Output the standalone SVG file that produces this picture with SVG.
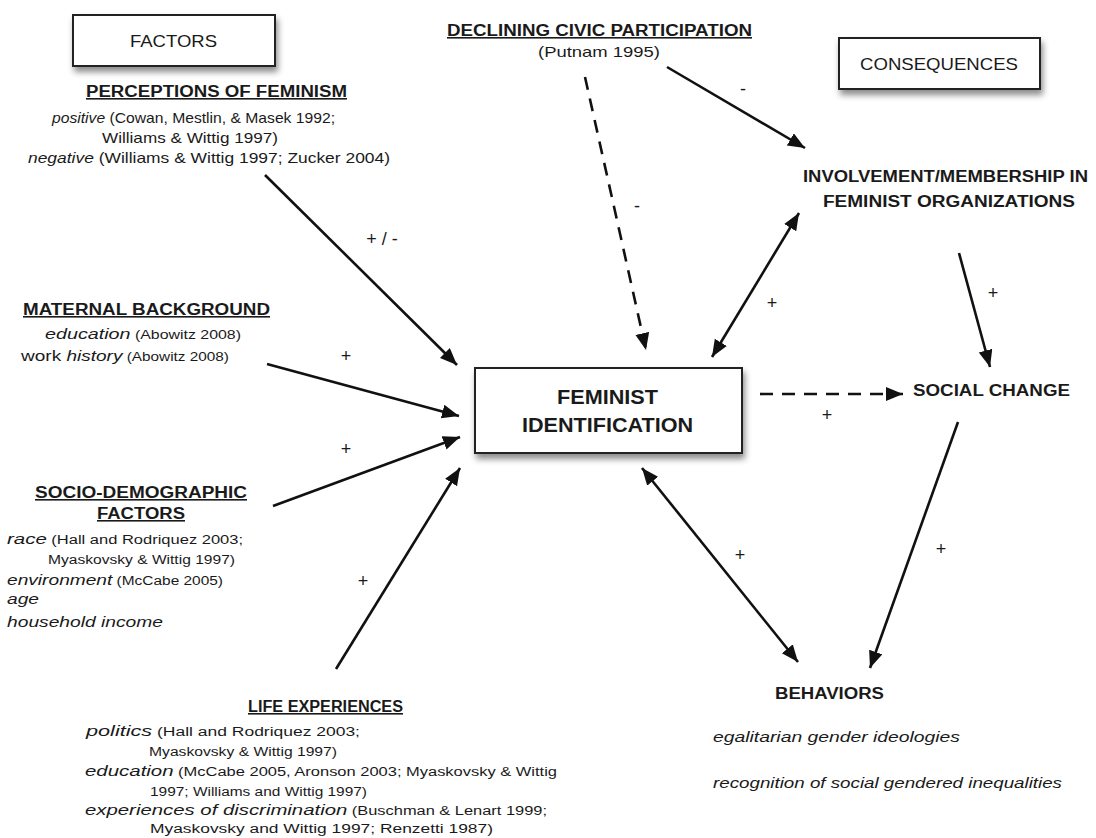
<svg xmlns="http://www.w3.org/2000/svg" width="1096" height="838" viewBox="0 0 1096 838">
<defs>
<filter id="sh" x="-20%" y="-20%" width="150%" height="160%">
<feDropShadow dx="2" dy="5" stdDeviation="3" flood-color="#000" flood-opacity="0.45"/>
</filter>
<marker id="ah" markerUnits="userSpaceOnUse" markerWidth="20" markerHeight="16" refX="17" refY="7" orient="auto-start-reverse">
<path d="M0,0 L17,7 L0,14 z" fill="#111"/>
</marker>
<style>
text{font-family:"Liberation Sans",Arial,sans-serif;fill:#1a1a1a}
.h{font-weight:bold;font-size:16px;text-decoration:underline}
.b{font-weight:bold}
.i{font-style:italic;font-size:15.5px}
.c{font-size:12.5px}
.p{font-size:15px}
.box{fill:#fff;stroke:#222;stroke-width:2}
.ln{stroke:#111;stroke-width:2.6;fill:none}
.ds{stroke-dasharray:13 9}
.lbl{font-size:18px;text-anchor:middle}
</style>
</defs>
<rect width="1096" height="838" fill="#fff"/>

<g id="factors">
<rect class="box" x="73" y="15" width="202" height="51" filter="url(#sh)"/>
<text x="130" y="47" font-size="17" textLength="87" lengthAdjust="spacingAndGlyphs">FACTORS</text>
</g>

<g id="consequences">
<rect class="box" x="839" y="38" width="201" height="51" filter="url(#sh)"/>
<text x="860" y="70" font-size="17" textLength="158" lengthAdjust="spacingAndGlyphs">CONSEQUENCES</text>
</g>

<g id="perceptions">
<text class="h" x="86" y="97" textLength="261" lengthAdjust="spacingAndGlyphs">PERCEPTIONS OF FEMINISM</text>
<text x="52" y="123" class="p" textLength="283" lengthAdjust="spacingAndGlyphs"><tspan font-style="italic">positive</tspan> (Cowan, Mestlin, &amp; Masek 1992;</text>
<text x="102" y="143" class="p" textLength="176" lengthAdjust="spacingAndGlyphs">Williams &amp; Wittig 1997)</text>
<text x="28" y="163" class="p" textLength="362" lengthAdjust="spacingAndGlyphs"><tspan font-style="italic">negative</tspan> (Williams &amp; Wittig 1997; Zucker 2004)</text>
</g>

<g id="maternal">
<text class="h" x="23" y="315" textLength="247" lengthAdjust="spacingAndGlyphs">MATERNAL BACKGROUND</text>
<text x="45" y="339" textLength="196" lengthAdjust="spacingAndGlyphs"><tspan class="i">education</tspan><tspan class="c"> (Abowitz 2008)</tspan></text>
<text x="21" y="361" textLength="208" lengthAdjust="spacingAndGlyphs"><tspan font-size="15.5">work </tspan><tspan class="i">history</tspan><tspan class="c"> (Abowitz 2008)</tspan></text>
</g>

<g id="sociodemographic">
<text class="h" x="35" y="498" textLength="212" lengthAdjust="spacingAndGlyphs">SOCIO-DEMOGRAPHIC</text>
<text class="h" x="97" y="519" textLength="88" lengthAdjust="spacingAndGlyphs">FACTORS</text>
<text x="7" y="544" textLength="236" lengthAdjust="spacingAndGlyphs"><tspan class="i">race</tspan><tspan class="c"> (Hall and Rodriquez 2003;</tspan></text>
<text x="48" y="564" class="c" textLength="187" lengthAdjust="spacingAndGlyphs">Myaskovsky &amp; Wittig 1997)</text>
<text x="7" y="585" textLength="216" lengthAdjust="spacingAndGlyphs"><tspan class="i">environment</tspan><tspan class="c"> (McCabe 2005)</tspan></text>
<text x="7" y="604" class="i" textLength="32" lengthAdjust="spacingAndGlyphs">age</text>
<text x="7" y="627" class="i" textLength="156" lengthAdjust="spacingAndGlyphs">household income</text>
</g>

<g id="life">
<text class="h" x="248" y="712" textLength="155" lengthAdjust="spacingAndGlyphs">LIFE EXPERIENCES</text>
<text x="86" y="736" textLength="274" lengthAdjust="spacingAndGlyphs"><tspan class="i">politics</tspan><tspan class="c"> (Hall and Rodriquez 2003;</tspan></text>
<text x="149" y="756" class="c" textLength="188" lengthAdjust="spacingAndGlyphs">Myaskovsky &amp; Wittig 1997)</text>
<text x="85" y="776" textLength="472" lengthAdjust="spacingAndGlyphs"><tspan class="i">education</tspan><tspan class="c"> (McCabe 2005, Aronson 2003; Myaskovsky &amp; Wittig</tspan></text>
<text x="150" y="796" class="c" textLength="217" lengthAdjust="spacingAndGlyphs">1997; Williams and Wittig 1997)</text>
<text x="85" y="815" textLength="462" lengthAdjust="spacingAndGlyphs"><tspan class="i">experiences of discrimination</tspan><tspan class="c"> (Buschman &amp; Lenart 1999;</tspan></text>
<text x="150" y="833" class="c" textLength="343" lengthAdjust="spacingAndGlyphs">Myaskovsky and Wittig 1997; Renzetti 1987)</text>
</g>

<g id="civic">
<text class="h" x="447" y="36" textLength="305" lengthAdjust="spacingAndGlyphs">DECLINING CIVIC PARTICIPATION</text>
<text x="538" y="57" class="p" textLength="122" lengthAdjust="spacingAndGlyphs">(Putnam 1995)</text>
</g>

<g id="feminist-identification">
<rect class="box" x="475" y="368" width="267" height="85" filter="url(#sh)"/>
<text class="b" x="557" y="404" font-size="20" textLength="101" lengthAdjust="spacingAndGlyphs">FEMINIST</text>
<text class="b" x="522" y="432" font-size="20" textLength="171" lengthAdjust="spacingAndGlyphs">IDENTIFICATION</text>
</g>

<g id="involvement">
<text class="b" x="803" y="182" font-size="16" textLength="285" lengthAdjust="spacingAndGlyphs">INVOLVEMENT/MEMBERSHIP IN</text>
<text class="b" x="823" y="207" font-size="16" textLength="252" lengthAdjust="spacingAndGlyphs">FEMINIST ORGANIZATIONS</text>
</g>

<g id="social-change">
<text class="b" x="913" y="396" font-size="16" textLength="157" lengthAdjust="spacingAndGlyphs">SOCIAL CHANGE</text>
</g>

<g id="behaviors">
<text class="b" x="775" y="699" font-size="16" textLength="109" lengthAdjust="spacingAndGlyphs">BEHAVIORS</text>
<text x="713" y="742" class="i" textLength="247" lengthAdjust="spacingAndGlyphs">egalitarian  gender  ideologies</text>
<text x="713" y="788" class="i" textLength="349" lengthAdjust="spacingAndGlyphs">recognition of social gendered inequalities</text>
</g>

<g id="connectors">
<line class="ln" x1="265" y1="175" x2="457" y2="365" marker-end="url(#ah)"/>
<line class="ln" x1="267" y1="364" x2="459" y2="416" marker-end="url(#ah)"/>
<line class="ln" x1="273" y1="506" x2="460" y2="437" marker-end="url(#ah)"/>
<line class="ln" x1="336" y1="669" x2="460" y2="468" marker-end="url(#ah)"/>
<line class="ln ds" x1="585" y1="77" x2="646" y2="350" marker-end="url(#ah)"/>
<line class="ln" x1="667" y1="67" x2="805" y2="148" marker-end="url(#ah)"/>
<line class="ln" x1="712" y1="357" x2="799" y2="213" marker-start="url(#ah)" marker-end="url(#ah)"/>
<line class="ln" x1="959" y1="253" x2="990" y2="367" marker-end="url(#ah)"/>
<line class="ln ds" x1="760" y1="394" x2="903" y2="394" marker-end="url(#ah)"/>
<line class="ln" x1="958" y1="422" x2="870" y2="668" marker-end="url(#ah)"/>
<line class="ln" x1="642" y1="468" x2="798" y2="662" marker-start="url(#ah)" marker-end="url(#ah)"/>
<text class="lbl" x="382" y="245">+ / -</text>
<text class="lbl" x="346" y="362">+</text>
<text class="lbl" x="346" y="455">+</text>
<text class="lbl" x="363" y="587">+</text>
<text class="lbl" x="637" y="212">-</text>
<text class="lbl" x="743" y="95">-</text>
<text class="lbl" x="772" y="309">+</text>
<text class="lbl" x="993" y="299">+</text>
<text class="lbl" x="827" y="421">+</text>
<text class="lbl" x="941" y="555">+</text>
<text class="lbl" x="740" y="561">+</text>
</g>
</svg>
